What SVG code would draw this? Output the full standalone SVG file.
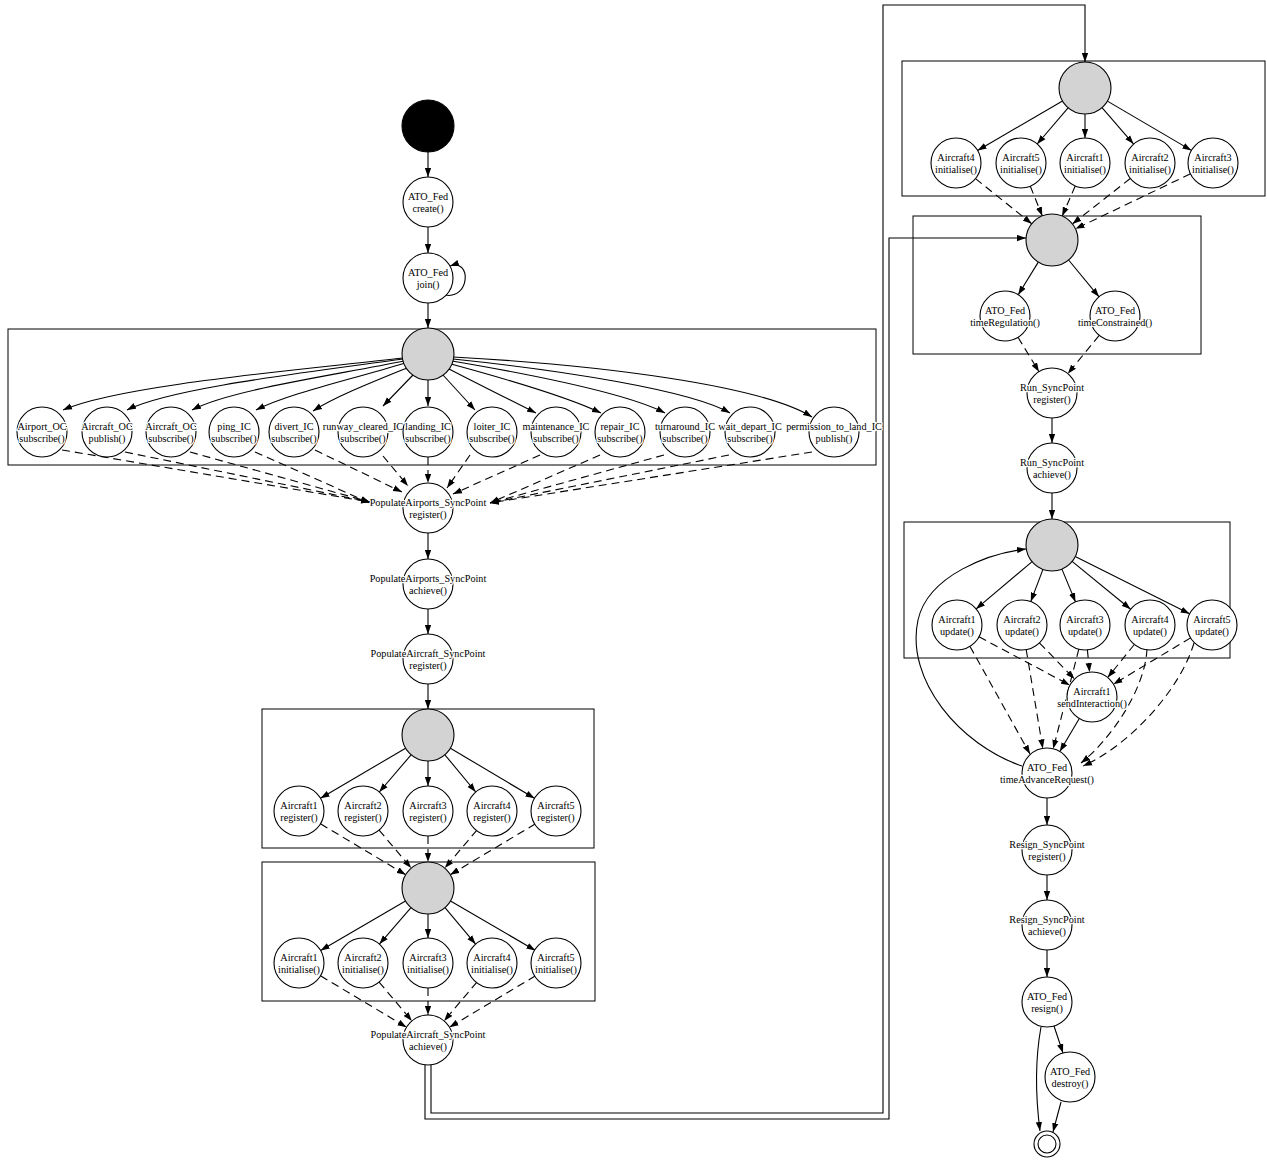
<svg xmlns="http://www.w3.org/2000/svg" width="1267" height="1163" viewBox="0 0 1267 1163">
<style>
.bg{fill:white}
.cl{fill:none;stroke:black;stroke-width:1}
.node circle{fill:white;stroke:black;stroke-width:1.1}
.node circle.g{fill:#d3d3d3}
.node circle.b{fill:black}
.node text{font-family:"Liberation Serif","Times New Roman",serif;font-size:10.2px;text-anchor:middle;fill:black;stroke:white;stroke-width:2.5;paint-order:stroke;stroke-linejoin:round}
.e path,.e line{fill:none;stroke:black;stroke-width:1.1}
.e .s{marker-end:url(#arr)}
.e .d{stroke-dasharray:8,5;marker-end:url(#arr)}
</style>
<defs>
<marker id="arr" viewBox="0 0 10 7" refX="10" refY="3.5" markerWidth="9" markerHeight="7" markerUnits="userSpaceOnUse" orient="auto"><path d="M0,0L10,3.5L0,7z" fill="black"/></marker>
</defs>
<rect class="bg" x="0" y="0" width="1267" height="1163"/>
<g id="clusters">
<rect class="cl" x="8" y="329" width="868" height="136"/>
<rect class="cl" x="262" y="709" width="332" height="139"/>
<rect class="cl" x="262" y="862" width="333" height="139"/>
<rect class="cl" x="902" y="61" width="363" height="135"/>
<rect class="cl" x="913" y="216" width="288" height="138"/>
<rect class="cl" x="904" y="522" width="326" height="136"/>
</g>
<g id="connectors" class="e">
<line class="s" x1="428" y1="152" x2="428" y2="177"/>
<line class="s" x1="428" y1="227" x2="428" y2="253"/>
<path class="s" d="M445,295 C470,300 472,258 450,266"/>
<line class="s" x1="428" y1="303" x2="428" y2="328"/>
<path class="s" d="M403,358 C300,370 120,385 63,410"/>
<path class="s" d="M403,359 C310,372 170,388 127,410"/>
<path class="s" d="M404,361 C330,376 230,390 192,410"/>
<path class="s" d="M405,363 C350,380 290,393 256,410"/>
<path class="s" d="M407,368 C370,383 335,397 313,411"/>
<line class="s" x1="413" y1="375" x2="383" y2="406"/>
<line class="s" x1="428" y1="380" x2="428" y2="406"/>
<line class="s" x1="443" y1="375" x2="475" y2="410"/>
<path class="s" d="M449,369 C480,385 510,400 536,413"/>
<path class="s" d="M451,364 C510,380 570,398 601,413"/>
<path class="s" d="M452,361 C540,376 630,395 665,413"/>
<path class="s" d="M453,359 C560,370 690,390 730,413"/>
<path class="s" d="M453,357 C600,365 760,385 812,417"/>
<line class="d" x1="62" y1="450" x2="370" y2="502"/>
<line class="d" x1="125" y1="452" x2="370" y2="502"/>
<line class="d" x1="190" y1="452" x2="370" y2="502"/>
<line class="d" x1="255" y1="452" x2="370" y2="503"/>
<line class="d" x1="315" y1="450" x2="402" y2="492"/>
<line class="d" x1="383" y1="456" x2="408" y2="486"/>
<line class="d" x1="428" y1="457" x2="428" y2="483"/>
<line class="d" x1="470" y1="455" x2="447" y2="488"/>
<line class="d" x1="540" y1="455" x2="453" y2="494"/>
<line class="d" x1="600" y1="455" x2="490" y2="503"/>
<line class="d" x1="664" y1="455" x2="490" y2="503"/>
<line class="d" x1="729" y1="455" x2="490" y2="503"/>
<line class="d" x1="812" y1="452" x2="490" y2="503"/>
<line class="s" x1="428" y1="533" x2="428" y2="559"/>
<line class="s" x1="428" y1="609" x2="428" y2="634"/>
<line class="s" x1="428" y1="684" x2="428" y2="709"/>
<line class="s" x1="405.6" y1="748.2" x2="320.5" y2="798.3"/>
<line class="s" x1="411.1" y1="754.8" x2="379.3" y2="792"/>
<line class="s" x1="428" y1="761" x2="428" y2="786"/>
<line class="s" x1="444.9" y1="754.8" x2="475.7" y2="792"/>
<line class="s" x1="450.4" y1="748.2" x2="534.5" y2="798.3"/>
<line class="d" x1="320.5" y1="823.8" x2="405.7" y2="874.7"/>
<line class="d" x1="379.1" y1="830.1" x2="411.2" y2="868.1"/>
<line class="d" x1="428" y1="836" x2="428" y2="862"/>
<line class="d" x1="476.9" y1="830.1" x2="444.8" y2="868.1"/>
<line class="d" x1="535.5" y1="823.8" x2="450.3" y2="874.7"/>
<line class="s" x1="405.5" y1="901.1" x2="320.6" y2="950.4"/>
<line class="s" x1="411" y1="907.7" x2="379.4" y2="944.1"/>
<line class="s" x1="428" y1="914" x2="428" y2="938"/>
<line class="s" x1="445" y1="907.7" x2="475.6" y2="944.1"/>
<line class="s" x1="450.5" y1="901.1" x2="535.4" y2="950.4"/>
<line class="d" x1="320.5" y1="975.8" x2="406.5" y2="1027.2"/>
<line class="d" x1="379.1" y1="982.1" x2="411.9" y2="1020.9"/>
<line class="d" x1="428" y1="988" x2="428" y2="1015"/>
<line class="d" x1="476.9" y1="982.1" x2="444.1" y2="1020.9"/>
<line class="d" x1="535.5" y1="975.8" x2="449.5" y2="1027.2"/>
<path class="s" d="M431,1065 L431,1113 L883,1113 L883,5 L1085,5 L1085,62"/>
<path class="s" d="M425,1065 L425,1119 L889,1119 L889,238 L1026,238"/>
<line class="s" x1="1062.5" y1="101.1" x2="977.6" y2="150.4"/>
<line class="s" x1="1068.1" y1="107.8" x2="1037.2" y2="144"/>
<line class="s" x1="1085" y1="114" x2="1085" y2="138"/>
<line class="s" x1="1102" y1="107.7" x2="1133.6" y2="144.1"/>
<line class="s" x1="1107.4" y1="101.1" x2="1191.4" y2="150.4"/>
<line class="d" x1="975.5" y1="178.6" x2="1031.7" y2="223.7"/>
<line class="d" x1="1030.3" y1="186.2" x2="1042.3" y2="215.9"/>
<line class="d" x1="1075.2" y1="186" x2="1062.2" y2="216.1"/>
<line class="d" x1="1130.3" y1="178.5" x2="1072.4" y2="223.9"/>
<line class="d" x1="1190.5" y1="173.8" x2="1075.5" y2="228.8"/>
<line class="s" x1="1038.3" y1="262.1" x2="1018.2" y2="294.8"/>
<line class="s" x1="1068.6" y1="260" x2="1099" y2="296.8"/>
<line class="d" x1="1018" y1="337.3" x2="1039" y2="371.7"/>
<line class="d" x1="1099.2" y1="335.4" x2="1067.8" y2="373.7"/>
<line class="s" x1="1052" y1="418" x2="1052" y2="443"/>
<line class="s" x1="1052" y1="493" x2="1052" y2="519"/>
<line class="s" x1="1032.1" y1="561.7" x2="976.1" y2="608.9"/>
<line class="s" x1="1042.9" y1="569.4" x2="1030.8" y2="601.6"/>
<line class="s" x1="1061.9" y1="569.1" x2="1075.5" y2="601.9"/>
<line class="s" x1="1072.1" y1="561.4" x2="1130.6" y2="609.2"/>
<line class="s" x1="1075.2" y1="556.6" x2="1189.6" y2="613.8"/>
<line class="d" x1="979" y1="636.8" x2="1069.9" y2="685.2"/>
<line class="d" x1="970" y1="646.4" x2="1030" y2="754"/>
<line class="d" x1="1039.4" y1="642.9" x2="1074.6" y2="679.1"/>
<line class="d" x1="1026.2" y1="649.6" x2="1042.8" y2="748.4"/>
<line class="d" x1="1087.4" y1="649.9" x2="1089.6" y2="672.1"/>
<line class="d" x1="1078.8" y1="649.2" x2="1053.2" y2="748.8"/>
<line class="d" x1="1134.3" y1="644.5" x2="1107.7" y2="677.5"/>
<path class="d" d="M1147,649 C1145,690 1110,740 1081,763"/>
<line class="d" x1="1190.6" y1="637.9" x2="1113.4" y2="684.2"/>
<path class="d" d="M1194,643 C1180,690 1130,745 1083,766"/>
<line class="s" x1="1079.3" y1="718.5" x2="1059.8" y2="751.5"/>
<path class="s" d="M1022,766 C960,745 905,680 918,620 C928,575 990,553 1026,549"/>
<line class="s" x1="1047" y1="798" x2="1047" y2="825"/>
<line class="s" x1="1047" y1="875" x2="1047" y2="900"/>
<line class="s" x1="1047" y1="950" x2="1047" y2="977"/>
<path class="s" d="M1041,1027 C1035,1060 1036,1100 1040,1131"/>
<line class="s" x1="1054" y1="1026" x2="1063" y2="1053"/>
<line class="s" x1="1061" y1="1102" x2="1053" y2="1132"/>
</g>
<g id="start" class="node"><circle class="b" cx="428" cy="126" r="26"/></g>
<g id="n_create" class="node"><circle cx="428" cy="202" r="25"/><text x="428" y="200">ATO_Fed</text><text x="428" y="211.5">create()</text></g>
<g id="n_join" class="node"><circle cx="428" cy="278" r="25"/><text x="428" y="276">ATO_Fed</text><text x="428" y="287.5">join()</text></g>
<g id="fork1" class="node"><circle class="g" cx="428" cy="354" r="26"/></g>
<g id="sub_airport_oc" class="node"><circle cx="42" cy="432" r="25"/><text x="42" y="430">Airport_OC</text><text x="42" y="441.5">subscribe()</text></g>
<g id="pub_aircraft_oc" class="node"><circle cx="107" cy="432" r="25"/><text x="107" y="430">Aircraft_OC</text><text x="107" y="441.5">publish()</text></g>
<g id="sub_aircraft_oc" class="node"><circle cx="171" cy="432" r="25"/><text x="171" y="430">Aircraft_OC</text><text x="171" y="441.5">subscribe()</text></g>
<g id="sub_ping" class="node"><circle cx="234" cy="432" r="25"/><text x="234" y="430">ping_IC</text><text x="234" y="441.5">subscribe()</text></g>
<g id="sub_divert" class="node"><circle cx="294" cy="432" r="25"/><text x="294" y="430">divert_IC</text><text x="294" y="441.5">subscribe()</text></g>
<g id="sub_runway" class="node"><circle cx="363" cy="432" r="25"/><text x="363" y="430">runway_cleared_IC</text><text x="363" y="441.5">subscribe()</text></g>
<g id="sub_landing" class="node"><circle cx="428" cy="432" r="25"/><text x="428" y="430">landing_IC</text><text x="428" y="441.5">subscribe()</text></g>
<g id="sub_loiter" class="node"><circle cx="492" cy="432" r="25"/><text x="492" y="430">loiter_IC</text><text x="492" y="441.5">subscribe()</text></g>
<g id="sub_maintenance" class="node"><circle cx="556" cy="432" r="25"/><text x="556" y="430">maintenance_IC</text><text x="556" y="441.5">subscribe()</text></g>
<g id="sub_repair" class="node"><circle cx="620" cy="432" r="25"/><text x="620" y="430">repair_IC</text><text x="620" y="441.5">subscribe()</text></g>
<g id="sub_turnaround" class="node"><circle cx="685" cy="432" r="25"/><text x="685" y="430">turnaround_IC</text><text x="685" y="441.5">subscribe()</text></g>
<g id="sub_wait_depart" class="node"><circle cx="750" cy="432" r="25"/><text x="750" y="430">wait_depart_IC</text><text x="750" y="441.5">subscribe()</text></g>
<g id="pub_permission" class="node"><circle cx="834" cy="432" r="25"/><text x="834" y="430">permission_to_land_IC</text><text x="834" y="441.5">publish()</text></g>
<g id="pa_register" class="node"><circle cx="428" cy="508" r="25"/><text x="428" y="506">PopulateAirports_SyncPoint</text><text x="428" y="517.5">register()</text></g>
<g id="pa_achieve" class="node"><circle cx="428" cy="584" r="25"/><text x="428" y="582">PopulateAirports_SyncPoint</text><text x="428" y="593.5">achieve()</text></g>
<g id="pc_register" class="node"><circle cx="428" cy="659" r="25"/><text x="428" y="657">PopulateAircraft_SyncPoint</text><text x="428" y="668.5">register()</text></g>
<g id="fork2" class="node"><circle class="g" cx="428" cy="735" r="26"/></g>
<g id="reg1" class="node"><circle cx="299" cy="811" r="25"/><text x="299" y="809">Aircraft1</text><text x="299" y="820.5">register()</text></g>
<g id="reg2" class="node"><circle cx="363" cy="811" r="25"/><text x="363" y="809">Aircraft2</text><text x="363" y="820.5">register()</text></g>
<g id="reg3" class="node"><circle cx="428" cy="811" r="25"/><text x="428" y="809">Aircraft3</text><text x="428" y="820.5">register()</text></g>
<g id="reg4" class="node"><circle cx="492" cy="811" r="25"/><text x="492" y="809">Aircraft4</text><text x="492" y="820.5">register()</text></g>
<g id="reg5" class="node"><circle cx="556" cy="811" r="25"/><text x="556" y="809">Aircraft5</text><text x="556" y="820.5">register()</text></g>
<g id="fork3" class="node"><circle class="g" cx="428" cy="888" r="26"/></g>
<g id="init1" class="node"><circle cx="299" cy="963" r="25"/><text x="299" y="961">Aircraft1</text><text x="299" y="972.5">initialise()</text></g>
<g id="init2" class="node"><circle cx="363" cy="963" r="25"/><text x="363" y="961">Aircraft2</text><text x="363" y="972.5">initialise()</text></g>
<g id="init3" class="node"><circle cx="428" cy="963" r="25"/><text x="428" y="961">Aircraft3</text><text x="428" y="972.5">initialise()</text></g>
<g id="init4" class="node"><circle cx="492" cy="963" r="25"/><text x="492" y="961">Aircraft4</text><text x="492" y="972.5">initialise()</text></g>
<g id="init5" class="node"><circle cx="556" cy="963" r="25"/><text x="556" y="961">Aircraft5</text><text x="556" y="972.5">initialise()</text></g>
<g id="pc_achieve" class="node"><circle cx="428" cy="1040" r="25"/><text x="428" y="1038">PopulateAircraft_SyncPoint</text><text x="428" y="1049.5">achieve()</text></g>
<g id="fork4" class="node"><circle class="g" cx="1085" cy="88" r="26"/></g>
<g id="init_b4" class="node"><circle cx="956" cy="163" r="25"/><text x="956" y="161">Aircraft4</text><text x="956" y="172.5">initialise()</text></g>
<g id="init_b5" class="node"><circle cx="1021" cy="163" r="25"/><text x="1021" y="161">Aircraft5</text><text x="1021" y="172.5">initialise()</text></g>
<g id="init_b1" class="node"><circle cx="1085" cy="163" r="25"/><text x="1085" y="161">Aircraft1</text><text x="1085" y="172.5">initialise()</text></g>
<g id="init_b2" class="node"><circle cx="1150" cy="163" r="25"/><text x="1150" y="161">Aircraft2</text><text x="1150" y="172.5">initialise()</text></g>
<g id="init_b3" class="node"><circle cx="1213" cy="163" r="25"/><text x="1213" y="161">Aircraft3</text><text x="1213" y="172.5">initialise()</text></g>
<g id="fork5" class="node"><circle class="g" cx="1052" cy="240" r="26"/></g>
<g id="time_reg" class="node"><circle cx="1005" cy="316" r="25"/><text x="1005" y="314">ATO_Fed</text><text x="1005" y="325.5">timeRegulation()</text></g>
<g id="time_con" class="node"><circle cx="1115" cy="316" r="25"/><text x="1115" y="314">ATO_Fed</text><text x="1115" y="325.5">timeConstrained()</text></g>
<g id="run_register" class="node"><circle cx="1052" cy="393" r="25"/><text x="1052" y="391">Run_SyncPoint</text><text x="1052" y="402.5">register()</text></g>
<g id="run_achieve" class="node"><circle cx="1052" cy="468" r="25"/><text x="1052" y="466">Run_SyncPoint</text><text x="1052" y="477.5">achieve()</text></g>
<g id="fork6" class="node"><circle class="g" cx="1052" cy="545" r="26"/></g>
<g id="upd1" class="node"><circle cx="957" cy="625" r="25"/><text x="957" y="623">Aircraft1</text><text x="957" y="634.5">update()</text></g>
<g id="upd2" class="node"><circle cx="1022" cy="625" r="25"/><text x="1022" y="623">Aircraft2</text><text x="1022" y="634.5">update()</text></g>
<g id="upd3" class="node"><circle cx="1085" cy="625" r="25"/><text x="1085" y="623">Aircraft3</text><text x="1085" y="634.5">update()</text></g>
<g id="upd4" class="node"><circle cx="1150" cy="625" r="25"/><text x="1150" y="623">Aircraft4</text><text x="1150" y="634.5">update()</text></g>
<g id="upd5" class="node"><circle cx="1212" cy="625" r="25"/><text x="1212" y="623">Aircraft5</text><text x="1212" y="634.5">update()</text></g>
<g id="send_interaction" class="node"><circle cx="1092" cy="697" r="25"/><text x="1092" y="695">Aircraft1</text><text x="1092" y="706.5">sendInteraction()</text></g>
<g id="time_adv" class="node"><circle cx="1047" cy="773" r="25"/><text x="1047" y="771">ATO_Fed</text><text x="1047" y="782.5">timeAdvanceRequest()</text></g>
<g id="resign_register" class="node"><circle cx="1047" cy="850" r="25"/><text x="1047" y="848">Resign_SyncPoint</text><text x="1047" y="859.5">register()</text></g>
<g id="resign_achieve" class="node"><circle cx="1047" cy="925" r="25"/><text x="1047" y="923">Resign_SyncPoint</text><text x="1047" y="934.5">achieve()</text></g>
<g id="n_resign" class="node"><circle cx="1047" cy="1002" r="25"/><text x="1047" y="1000">ATO_Fed</text><text x="1047" y="1011.5">resign()</text></g>
<g id="n_destroy" class="node"><circle cx="1070" cy="1077" r="25"/><text x="1070" y="1075">ATO_Fed</text><text x="1070" y="1086.5">destroy()</text></g>
<g id="final" class="node"><circle cx="1047" cy="1144" r="13"/><circle cx="1047" cy="1144" r="9"/></g>
</svg>
